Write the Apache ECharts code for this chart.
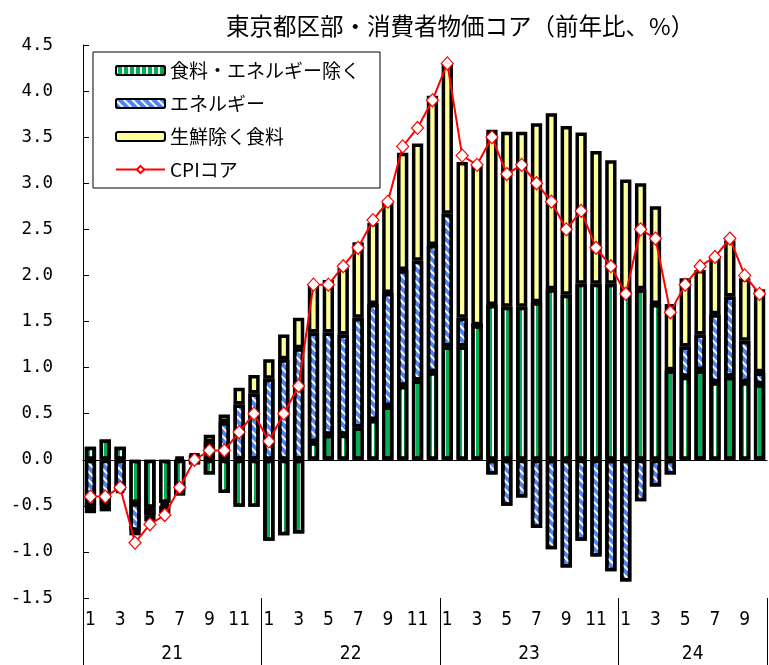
<!DOCTYPE html>
<html>
<head>
<meta charset="utf-8">
<script src="https://cdn.jsdelivr.net/npm/echarts@6/dist/echarts.min.js"></script>
<style>
html,body{margin:0;padding:0;background:#fff;}
#MyChart{width:769px;height:665px;}
</style>
</head>
<body>
<div id="MyChart"></div>
<script>
//年と月数
var years = ['21', '22', '23', '24'];
var monthCount = [12, 12, 12, 10];

//食料・エネルギー除く
var exFoodEnergy = [
	0.14, 0.22, 0.14, -0.47, -0.52, -0.47, -0.35, -0.05, -0.16, -0.36, -0.51, -0.51,
	-0.88, -0.82, -0.80, 0.19, 0.27, 0.27, 0.35, 0.43, 0.58, 0.80, 0.86, 0.95,
	1.23, 1.23, 1.46, 1.68, 1.66, 1.66, 1.71, 1.85, 1.79, 1.91, 1.91, 1.91,
	1.83, 1.85, 1.69, 0.97, 0.90, 0.97, 0.84, 0.90, 0.84, 0.82 ];
//エネルギー
var energy = [
	-0.51, -0.50, -0.33, -0.30, -0.08, -0.03, 0.03, 0.05, 0.19, 0.41, 0.60, 0.72,
	0.88, 1.09, 1.21, 1.19, 1.11, 1.09, 1.19, 1.26, 1.23, 1.26, 1.30, 1.38,
	1.44, 0.31, 0.00, -0.16, -0.50, -0.41, -0.74, -0.97, -1.17, -0.88, -1.05, -1.21,
	-1.32, -0.45, -0.29, -0.16, 0.33, 0.39, 0.74, 0.87, 0.45, 0.13 ];
//生鮮除く食料
var foodExFresh = [
	-0.07, -0.06, -0.03, -0.05, -0.07, -0.08, -0.04, 0.01, 0.08, 0.08, 0.18, 0.20,
	0.21, 0.27, 0.33, 0.53, 0.57, 0.72, 0.82, 0.88, 0.98, 1.27, 1.27, 1.62,
	1.64, 1.69, 1.73, 1.90, 1.90, 1.90, 1.94, 1.91, 1.83, 1.64, 1.44, 1.34,
	1.21, 1.15, 1.06, 0.72, 0.74, 0.70, 0.62, 0.61, 0.68, 0.90 ];
//CPIコア
var cpiCore = [
	-0.4, -0.4, -0.3, -0.9, -0.7, -0.6, -0.3, 0.0, 0.1, 0.1, 0.3, 0.5,
	0.2, 0.5, 0.8, 1.9, 1.9, 2.1, 2.3, 2.6, 2.8, 3.4, 3.6, 3.9,
	4.3, 3.3, 3.2, 3.5, 3.1, 3.2, 3.0, 2.8, 2.5, 2.7, 2.3, 2.1,
	1.8, 2.5, 2.4, 1.6, 1.9, 2.1, 2.2, 2.4, 2.0, 1.8 ];

//カテゴリ(年-月)を作る
var months = [];
var yearEdges = [0];
var yearCenters = [];
for (var i = 0; i < years.length; i++) {
	for (var m = 1; m <= monthCount[i]; m++) {
		months.push(years[i] + '-' + m);
	}
	yearCenters.push(yearEdges[i] + monthCount[i] / 2);
	yearEdges.push(yearEdges[i] + monthCount[i]);
}

var jp = '"Noto Sans CJK JP", sans-serif';
var narrow = '"Liberation Sans Narrow", "DejaVu Sans Condensed", sans-serif';

function barSeries(name, data, color, decal) {
	return {
		name : name,
		type : 'bar',
		stack : 'total',
		barWidth : '76%',
		data : data,
		itemStyle : {
			color : color,
			borderColor : '#000',
			borderWidth : 3.5,
			decal : decal
		}
	};
}

var option = {
	animation : false,
	backgroundColor : '#fff',
	title : {
		text : '東京都区部・消費者物価コア（前年比、%）',
		left : 221,
		top : 9,
		textStyle : {
			fontFamily : jp,
			fontSize : 23.5,
			fontWeight : 'normal',
			color : '#000'
		}
	},
	legend : {
		orient : 'vertical',
		left : 93,
		top : 52,
		padding : [ 9, 20, 9, 22 ],
		itemGap : 14,
		itemWidth : 49,
		itemHeight : 9,
		borderColor : '#000',
		borderWidth : 1,
		backgroundColor : '#fff',
		textStyle : {
			fontFamily : jp,
			fontSize : 19,
			color : '#000'
		},
		data : [ '食料・エネルギー除く', 'エネルギー', '生鮮除く食料', 'CPIコア' ]
	},
	grid : {
		left : 83,
		right : 2,
		top : 45,
		bottom : 67
	},
	xAxis : [ {
		type : 'category',
		data : months,
		axisLine : {
			lineStyle : { color : '#000' }
		},
		axisTick : { show : false },
		axisLabel : {
			interval : 1,
			margin : 13,
			fontFamily : narrow,
			fontSize : 19,
			color : '#000',
			formatter : function(v) {
				return v.split('-')[1];
			}
		}
	}, {
		//年の区切り
		type : 'value',
		position : 'bottom',
		min : 0,
		max : yearEdges[yearEdges.length - 1],
		axisLine : { show : false },
		splitLine : { show : false },
		axisTick : {
			customValues : yearEdges,
			length : 67,
			lineStyle : { color : '#000' }
		},
		axisLabel : {
			customValues : yearCenters,
			margin : 47,
			fontFamily : narrow,
			fontSize : 19,
			color : '#000',
			formatter : function(v) {
				return years[yearCenters.indexOf(v)];
			}
		}
	} ],
	yAxis : {
		type : 'value',
		min : -1.5,
		max : 4.5,
		interval : 0.5,
		splitLine : { show : false },
		axisLine : {
			show : true,
			lineStyle : { color : '#000' }
		},
		axisTick : {
			show : true,
			inside : true,
			length : 6,
			lineStyle : { color : '#000' }
		},
		axisLabel : {
			margin : 30,
			fontFamily : '"DejaVu Sans Mono", monospace',
			fontSize : 17.5,
			color : '#000',
			formatter : function(v) {
				return v.toFixed(1);
			}
		}
	},
	series : [
		barSeries('食料・エネルギー除く', exFoodEnergy, '#00b050', {
			symbol : 'rect',
			symbolSize : 1,
			dashArrayX : [ 2, 4 ],
			dashArrayY : [ 1, 0 ],
			color : '#ffffff'
		}),
		barSeries('エネルギー', energy, '#5085f2', {
			symbol : 'rect',
			symbolSize : 1,
			dashArrayX : [ 1, 0 ],
			dashArrayY : [ 2, 4 ],
			rotation : Math.PI / 4,
			color : '#ffffff'
		}),
		barSeries('生鮮除く食料', foodExFresh, '#ffff99', null),
		{
			name : 'CPIコア',
			type : 'line',
			data : cpiCore,
			z : 10,
			symbol : 'diamond',
			symbolSize : [ 12, 13 ],
			showAllSymbol : true,
			lineStyle : {
				color : '#ff0000',
				width : 2
			},
			itemStyle : {
				color : '#ffffff',
				borderColor : '#ff0000',
				borderWidth : 1.2
			}
		}
	]
};

var myChart = echarts.init(document.getElementById('MyChart'));
myChart.setOption(option);
</script>
</body>
</html>
